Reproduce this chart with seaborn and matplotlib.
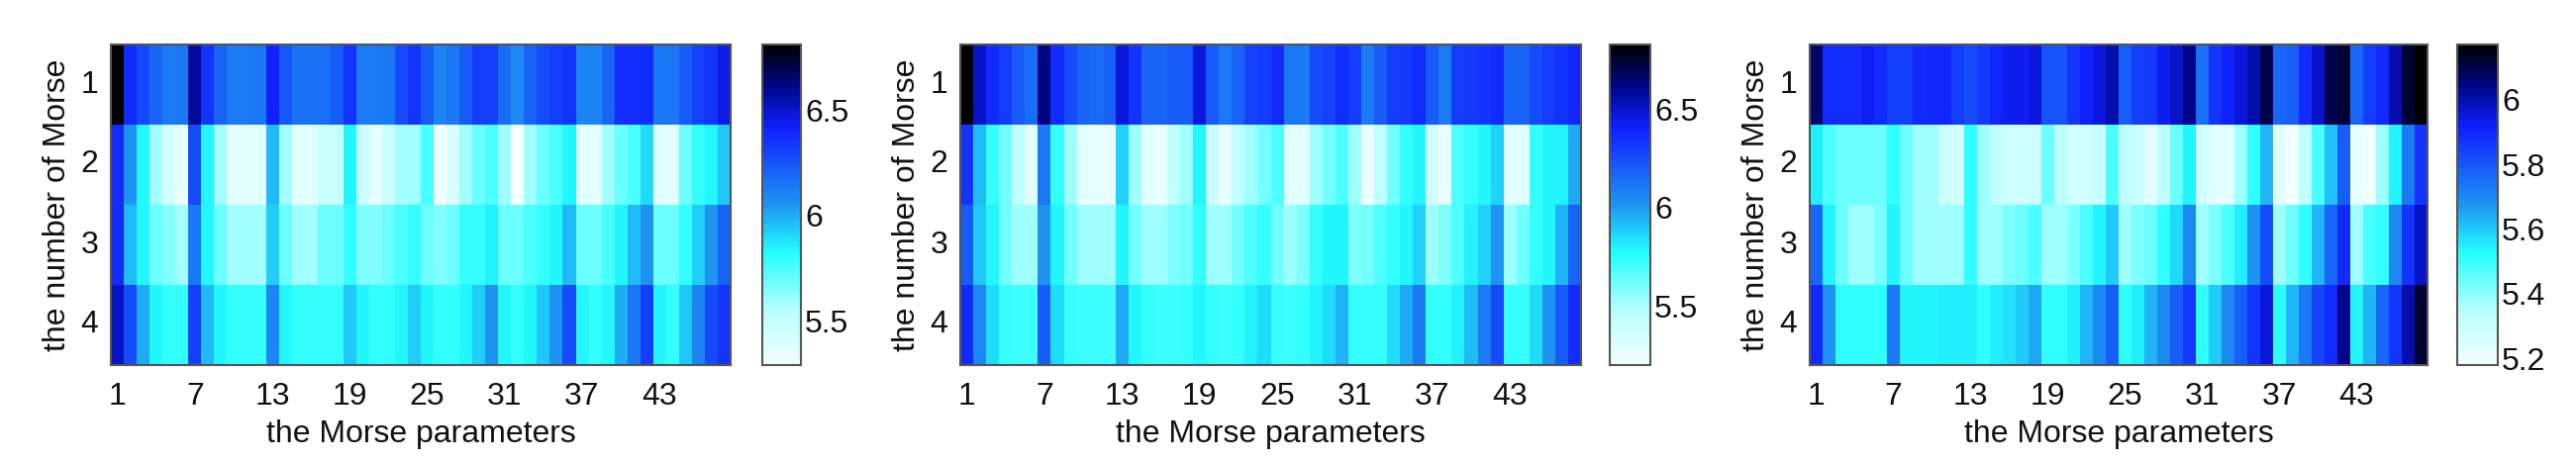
import numpy as np
import pandas as pd
import matplotlib
matplotlib.use("Agg")
import matplotlib.pyplot as plt
import seaborn as sns
from matplotlib.colors import LinearSegmentedColormap

# Morse parameters 1..48, number of Morse 1..4
params = list(range(1, 49))
morse_rows = [1, 2, 3, 4]

# left panel
p1_r1 = [6.81,6.38,6.29,6.20,6.13,6.14,6.58,6.35,6.20,6.13,6.13,6.14,6.41,6.25,6.16,6.16,6.17,6.23,6.35,6.13,6.13,6.14,6.28,6.35,
         6.23,6.10,6.14,6.23,6.32,6.32,6.17,6.08,6.20,6.28,6.32,6.35,6.10,6.10,6.20,6.37,6.37,6.38,6.14,6.14,6.23,6.31,6.35,6.45]
p1_r2 = [6.38,6.05,5.84,5.59,5.44,5.34,6.28,5.84,5.59,5.37,5.37,5.37,5.97,5.59,5.37,5.37,5.47,5.47,5.84,5.47,5.34,5.47,5.59,5.59,
         5.75,5.29,5.40,5.59,5.69,5.75,5.59,5.29,5.59,5.69,5.75,5.84,5.37,5.37,5.59,5.69,5.75,5.90,5.37,5.37,5.69,5.79,5.84,5.94]
p1_r3 = [6.38,5.97,5.84,5.69,5.65,5.59,6.14,5.84,5.69,5.59,5.59,5.59,5.93,5.69,5.59,5.59,5.69,5.69,5.79,5.65,5.65,5.69,5.75,5.79,
         5.69,5.65,5.69,5.79,5.79,5.85,5.69,5.69,5.75,5.79,5.84,5.97,5.69,5.69,5.75,5.84,5.97,6.05,5.69,5.69,5.79,5.93,6.05,6.20]
p1_r4 = [6.51,6.28,6.00,5.84,5.79,5.79,6.32,5.97,5.84,5.79,5.79,5.79,6.10,5.84,5.79,5.79,5.79,5.79,5.94,5.84,5.79,5.79,5.84,5.93,
         5.84,5.79,5.79,5.84,5.93,6.05,5.84,5.79,5.84,5.94,6.05,6.28,5.84,5.79,5.84,6.00,6.14,6.32,5.84,5.79,5.94,6.10,6.28,6.35]

# middle panel
p2_r1 = [6.83,6.50,6.37,6.31,6.21,6.15,6.63,6.37,6.26,6.18,6.15,6.19,6.47,6.34,6.18,6.18,6.21,6.21,6.47,6.21,6.11,6.18,6.29,6.31,
         6.37,6.11,6.11,6.26,6.29,6.36,6.31,6.10,6.21,6.31,6.32,6.37,6.21,6.10,6.31,6.32,6.34,6.37,6.18,6.18,6.26,6.31,6.34,6.39]
p2_r2 = [6.34,5.92,5.74,5.62,5.44,5.28,6.11,5.74,5.53,5.28,5.25,5.25,5.88,5.53,5.28,5.25,5.44,5.53,5.79,5.40,5.25,5.44,5.53,5.62,
         5.69,5.28,5.28,5.53,5.62,5.69,5.53,5.25,5.44,5.62,5.74,5.79,5.36,5.25,5.69,5.74,5.79,5.88,5.28,5.28,5.74,5.79,5.80,5.97]
p2_r3 = [6.21,5.90,5.79,5.62,5.53,5.53,6.02,5.79,5.62,5.53,5.53,5.53,5.79,5.62,5.53,5.53,5.59,5.62,5.74,5.53,5.53,5.62,5.69,5.74,
         5.62,5.53,5.59,5.74,5.79,5.79,5.59,5.62,5.69,5.74,5.79,5.88,5.53,5.59,5.69,5.80,5.88,6.02,5.53,5.62,5.74,5.79,5.95,6.18]
p2_r4 = [6.37,6.06,5.85,5.74,5.72,5.72,6.21,5.85,5.74,5.72,5.72,5.72,5.97,5.79,5.74,5.72,5.72,5.74,5.79,5.74,5.72,5.74,5.80,5.85,
         5.74,5.72,5.74,5.80,5.85,5.95,5.74,5.74,5.74,5.85,5.97,6.11,5.74,5.74,5.80,5.93,6.10,6.26,5.74,5.74,5.85,6.02,6.21,6.36]

# right panel
p3_r1 = [6.07,5.89,5.89,5.89,5.92,5.89,5.85,5.85,5.89,5.90,5.90,5.85,5.82,5.86,5.90,5.93,5.93,5.95,5.81,5.81,5.87,5.91,5.95,6.00,
         5.79,5.85,5.86,5.93,5.97,6.04,5.75,5.87,5.91,5.95,6.00,6.10,5.77,5.79,5.89,5.97,6.10,6.12,5.77,5.85,5.89,6.00,6.12,6.17]
p3_r2 = [5.55,5.48,5.44,5.44,5.44,5.44,5.51,5.44,5.38,5.38,5.30,5.28,5.51,5.38,5.33,5.29,5.29,5.29,5.44,5.33,5.28,5.28,5.30,5.48,
         5.33,5.30,5.23,5.33,5.44,5.54,5.28,5.23,5.23,5.38,5.51,5.63,5.23,5.18,5.33,5.48,5.61,5.79,5.21,5.18,5.38,5.54,5.73,5.87]
p3_r3 = [5.77,5.54,5.44,5.38,5.38,5.42,5.54,5.44,5.38,5.38,5.38,5.38,5.51,5.38,5.38,5.42,5.44,5.48,5.38,5.38,5.42,5.48,5.54,5.60,
         5.38,5.42,5.44,5.51,5.58,5.70,5.38,5.42,5.48,5.55,5.68,5.82,5.38,5.44,5.51,5.63,5.77,5.89,5.38,5.48,5.51,5.70,5.87,5.97]
p3_r4 = [5.89,5.68,5.51,5.51,5.51,5.51,5.73,5.54,5.54,5.54,5.55,5.55,5.55,5.51,5.55,5.57,5.60,5.65,5.51,5.51,5.55,5.63,5.70,5.79,
         5.51,5.55,5.63,5.70,5.79,5.86,5.51,5.60,5.70,5.79,5.87,5.95,5.51,5.63,5.73,5.84,5.89,6.04,5.54,5.63,5.77,5.87,6.00,6.12]

panels = [
    ([p1_r1, p1_r2, p1_r3, p1_r4], 5.29, 6.81, [5.5, 6, 6.5]),
    ([p2_r1, p2_r2, p2_r3, p2_r4], 5.20, 6.83, [5.5, 6, 6.5]),
    ([p3_r1, p3_r2, p3_r3, p3_r4], 5.18, 6.17, [5.2, 5.4, 5.6, 5.8, 6]),
]

# white -> cyan -> blue -> black
cmap = LinearSegmentedColormap.from_list("morse", [
    (0.0, "#f2ffff"), (0.17, "#b8ffff"), (0.35, "#22ffff"), (0.5, "#1d95f2"),
    (0.74, "#1020ff"), (0.87, "#00068a"), (1.0, "#000000")])

sns.set_style("white")
plt.rcParams['font.family'] = ['Liberation Sans', 'DejaVu Sans']
plt.rcParams['text.color'] = '#111111'
plt.rcParams['axes.labelcolor'] = '#111111'
plt.rcParams['xtick.color'] = '#111111'
plt.rcParams['ytick.color'] = '#111111'

W, H = 2602, 468
fig = plt.figure(figsize=(W / 100, H / 100), dpi=100)

ax_px = [(112, 626, 770, 39), (970, 627, 1626, 41), (1828, 624, 2482, 41)]
top, bottom = 45, 369
fs = 23

for (rows, vmin, vmax, cticks), (x0, w, cx, cw) in zip(panels, ax_px):
    df = pd.DataFrame(rows, index=morse_rows, columns=params)
    ax = fig.add_axes([x0 / W, 1 - bottom / H, w / W, (bottom - top) / H])
    cax = fig.add_axes([cx / W, 1 - bottom / H, cw / W, (bottom - top) / H])
    sns.heatmap(df, ax=ax, cbar_ax=cax, cmap=cmap, vmin=vmin, vmax=vmax,
                xticklabels=6, yticklabels=1, cbar_kws={'ticks': cticks, 'format': '%g'})
    ax.set_xlabel('the Morse parameters', fontsize=fs, labelpad=6)
    ax.set_ylabel('the number of Morse', fontsize=fs, labelpad=6)
    ax.tick_params(axis='both', direction='in', length=4, width=0.8, color='#333333',
                   top=True, right=True, labelsize=fs, pad=9)
    ax.tick_params(axis='x', pad=12)
    plt.setp(ax.get_xticklabels(), rotation=0)
    plt.setp(ax.get_yticklabels(), rotation=0)
    for sp in ax.spines.values():
        sp.set_visible(True)
        sp.set_color('#555555')
        sp.set_linewidth(1.5)
    cax.tick_params(direction='in', length=4, width=0.8, color='#333333',
                    left=True, right=True, labelsize=fs, pad=3)
    cb = ax.collections[0].colorbar
    cb.outline.set_visible(True)
    cb.outline.set_edgecolor('#555555')
    cb.outline.set_linewidth(1.5)

fig.savefig('out.png', dpi=100, facecolor='white')
